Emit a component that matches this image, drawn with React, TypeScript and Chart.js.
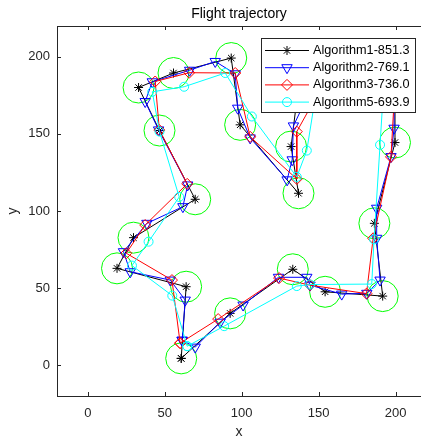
import React, { useEffect, useRef } from 'react';
import { Chart, registerables } from 'chart.js';

Chart.register(...registerables);

const TITLE = 'Flight trajectory';
const X_LABEL = 'x';
const Y_LABEL = 'y';
const xTickValues = [0, 50, 100, 150, 200];
const yTickValues = [0, 50, 100, 150, 200];
const seriesNames = ['Algorithm1-851.3', 'Algorithm2-769.1', 'Algorithm3-736.0', 'Algorithm5-693.9'];

// Algorithm1 visits the waypoint centres (green circles)
const alg1X = [60.7, 92.5, 133.2, 154.2, 191.6, 186.2, 199.6, 199.6, 138.6, 132.1, 136.9, 99.0, 93.2, 55.7, 33.0, 46.6, 69.8, 29.7, 19.0, 63.9];
const alg1Y = [4.4, 33.6, 62.2, 47.6, 44.8, 92.0, 144.4, 194.9, 194.9, 141.8, 111.5, 155.9, 199.2, 189.5, 180.1, 152.2, 107.6, 82.7, 62.8, 50.9];

const alg2X = [61.3, 69.8, 86.0, 100.9, 123.9, 142.3, 144.4, 165.0, 181.3, 189.9, 187.7, 187.7, 197.0, 199.0, 199.0, 152.6, 133.6, 132.8, 129.5, 105.5, 97.4, 95.8, 82.8, 66.2, 41.9, 37.3, 46.0, 64.9, 61.8, 38.4, 23.2, 27.6, 53.6, 63.3];
const alg2Y = [16.2, 11.7, 27.9, 39.0, 57.0, 57.0, 51.9, 46.1, 46.6, 55.2, 82.3, 101.8, 135.3, 153.7, 194.9, 194.9, 155.2, 133.2, 120.2, 147.4, 166.7, 189.0, 197.0, 191.3, 183.8, 171.0, 152.6, 116.9, 102.8, 92.0, 73.6, 60.6, 55.2, 42.2];

const alg3X = [60.0, 84.7, 124.3, 144.4, 181.1, 185.4, 197.0, 200.3, 160.0, 135.8, 135.8, 105.5, 95.8, 65.9, 43.8, 46.5, 64.6, 37.3, 25.0, 54.7];
const alg3Y = [14.3, 29.9, 56.5, 51.9, 46.4, 82.3, 135.1, 194.9, 194.9, 151.5, 120.8, 148.1, 189.5, 189.7, 184.0, 152.5, 117.6, 90.9, 72.6, 55.2];

const alg5X = [64.6, 88.6, 135.8, 144.4, 184.5, 186.0, 189.9, 193.1, 151.2, 142.3, 135.8, 106.6, 89.3, 62.6, 41.9, 46.6, 59.4, 39.5, 28.7, 54.9];
const alg5Y = [12.3, 25.3, 51.3, 52.3, 52.6, 81.6, 142.9, 194.9, 194.9, 139.2, 122.1, 161.3, 189.5, 180.6, 177.3, 151.5, 109.1, 80.1, 64.6, 45.1];

const FONT = "'Liberation Sans', Arial, Helvetica, sans-serif";
const AXIS_COLOR = '#262626';
const seriesColors = ['#000000', '#0000ff', '#ff0000', '#00ffff'];
const seriesMarkers = ['star', 'triDown', 'diamond', 'circle'];

function pts(xs: number[], ys: number[]) {
  return xs.map((x, i) => ({ x, y: ys[i] }));
}
function loop(xs: number[], ys: number[]) {
  const p = pts(xs, ys);
  return [...p, p[0]];
}

function drawMarker(ctx: CanvasRenderingContext2D, kind: string, x: number, y: number, color: string) {
  ctx.save();
  ctx.strokeStyle = color;
  ctx.lineWidth = 1;
  ctx.beginPath();
  if (kind === 'star') {
    const r = 4.5;
    const d = r * Math.SQRT1_2;
    ctx.moveTo(x - r, y); ctx.lineTo(x + r, y);
    ctx.moveTo(x, y - r); ctx.lineTo(x, y + r);
    ctx.moveTo(x - d, y - d); ctx.lineTo(x + d, y + d);
    ctx.moveTo(x - d, y + d); ctx.lineTo(x + d, y - d);
  } else if (kind === 'triDown') {
    const r = 6;
    ctx.moveTo(x, y + r);
    ctx.lineTo(x + r * Math.sin(Math.PI / 3), y - r / 2);
    ctx.lineTo(x - r * Math.sin(Math.PI / 3), y - r / 2);
    ctx.closePath();
  } else if (kind === 'diamond') {
    const r = 5.5;
    ctx.moveTo(x, y - r); ctx.lineTo(x + r, y); ctx.lineTo(x, y + r); ctx.lineTo(x - r, y);
    ctx.closePath();
  } else {
    ctx.arc(x, y, 4.5, 0, Math.PI * 2);
  }
  ctx.stroke();
  ctx.restore();
}

const decorPlugin = {
  id: 'decor',
  afterDraw(chart: any) {
    const { ctx, chartArea: a, scales } = chart;
    const xs = scales.x;
    const ys = scales.y;
    ctx.save();
    ctx.strokeStyle = AXIS_COLOR;
    ctx.lineWidth = 1;
    // top border
    const top = Math.round(a.top) + 0.5;
    ctx.beginPath();
    ctx.moveTo(a.left, top);
    ctx.lineTo(a.right, top);
    ctx.stroke();
    // inward ticks
    ctx.beginPath();
    xTickValues.forEach((v) => {
      const p = Math.round(xs.getPixelForValue(v)) + 0.5;
      ctx.moveTo(p, a.bottom);
      ctx.lineTo(p, a.bottom - 4);
      ctx.moveTo(p, a.top);
      ctx.lineTo(p, a.top + 4);
    });
    yTickValues.forEach((v) => {
      const p = Math.round(ys.getPixelForValue(v)) + 0.5;
      ctx.moveTo(a.left, p);
      ctx.lineTo(a.left + 4, p);
    });
    ctx.stroke();

    // x tick labels
    ctx.fillStyle = AXIS_COLOR;
    ctx.font = `13px ${FONT}`;
    ctx.textAlign = 'center';
    ctx.textBaseline = 'middle';
    xTickValues.forEach((v) => {
      ctx.fillText(String(v), xs.getPixelForValue(v), a.bottom + 17.3);
    });

    // legend box
    const lx = 261.5, ly = 38.5, lw = 154, lh = 74;
    ctx.fillStyle = '#ffffff';
    ctx.fillRect(lx, ly, lw, lh);
    ctx.strokeStyle = AXIS_COLOR;
    ctx.strokeRect(lx, ly, lw, lh);
    ctx.font = `12.7px ${FONT}`;
    ctx.textBaseline = 'middle';
    ctx.textAlign = 'left';
    seriesNames.forEach((name, i) => {
      const yy = 50.5 + i * 17.2;
      ctx.strokeStyle = seriesColors[i];
      ctx.beginPath();
      ctx.moveTo(265, yy);
      ctx.lineTo(309, yy);
      ctx.stroke();
      drawMarker(ctx, seriesMarkers[i], 287, yy, seriesColors[i]);
      ctx.fillStyle = '#000000';
      ctx.fillText(name, 313, yy);
    });
    ctx.restore();
  },
};

export default function App() {
  const ref = useRef<HTMLCanvasElement>(null);
  useEffect(() => {
    const canvas = ref.current;
    if (!canvas) return;
    Chart.defaults.font.family = FONT;
    const lineDs = (label: string, data: any[], color: string, style: any, radius: number, rot: number, order: number) => ({
      label,
      data,
      showLine: true,
      borderColor: color,
      borderWidth: 1,
      backgroundColor: 'rgba(0,0,0,0)',
      pointStyle: style,
      pointRadius: radius,
      pointRotation: rot,
      pointBorderColor: color,
      pointBackgroundColor: 'rgba(0,0,0,0)',
      pointBorderWidth: 1,
      tension: 0,
      fill: false,
      order,
    });
    const chart = new Chart(canvas, {
      type: 'scatter',
      data: {
        datasets: [
          {
            label: 'waypoints',
            data: pts(alg1X, alg1Y),
            showLine: false,
            pointStyle: 'circle',
            pointRadius: 15.5,
            pointBorderColor: 'rgb(0,255,0)',
            pointBackgroundColor: 'rgba(0,0,0,0)',
            pointBorderWidth: 1,
            order: 5,
          } as any,
          lineDs(seriesNames[0], loop(alg1X, alg1Y), seriesColors[0], 'star', 4.5, 0, 4),
          lineDs(seriesNames[1], loop(alg2X, alg2Y), seriesColors[1], 'triangle', 6, 180, 3),
          lineDs(seriesNames[2], loop(alg3X, alg3Y), seriesColors[2], 'rectRot', 5.5, 0, 2),
          lineDs(seriesNames[3], loop(alg5X, alg5Y), seriesColors[3], 'circle', 4.5, 0, 1),
        ],
      },
      options: {
        responsive: false,
        animation: false,
        events: [],
        layout: { padding: 0, autoPadding: false },
        plugins: {
          legend: { display: false },
          tooltip: { enabled: false },
          title: {
            display: true,
            text: TITLE,
            fullSize: false,
            color: '#000000',
            font: { family: FONT, size: 14, weight: 'normal' },
            padding: { top: 6, bottom: 3.2 },
          },
        },
        scales: {
          x: {
            type: 'linear',
            min: -20,
            max: 216.5,
            afterBuildTicks: (s: any) => { s.ticks = xTickValues.map((v) => ({ value: v })); },
            afterFit: (s: any) => { s.height = 43; s.paddingLeft = 0; s.paddingRight = 0; },
            grid: { display: true, drawOnChartArea: false, drawTicks: false },
            border: { display: true, color: AXIS_COLOR, width: 1 },
            ticks: { display: false },
            title: { display: true, text: X_LABEL, color: AXIS_COLOR, font: { family: FONT, size: 14, lineHeight: 1 }, padding: { top: 0, bottom: 0 } },
          },
          y: {
            type: 'linear',
            min: -20,
            max: 220,
            afterBuildTicks: (s: any) => { s.ticks = yTickValues.map((v) => ({ value: v })); },
            afterFit: (s: any) => { s.width = 57; s.paddingTop = 0; s.paddingBottom = 0; },
            grid: { display: true, drawOnChartArea: false, drawTicks: false },
            border: { display: true, color: AXIS_COLOR, width: 1 },
            ticks: { color: AXIS_COLOR, font: { family: FONT, size: 13 }, padding: 7 },
            title: { display: true, text: Y_LABEL, color: AXIS_COLOR, font: { family: FONT, size: 14, lineHeight: 1 }, padding: { top: 6, bottom: 0 } },
          },
        },
      } as any,
      plugins: [decorPlugin],
    });
    return () => chart.destroy();
  }, []);
  return (
    <div style={{ position: 'fixed', left: 0, top: 0, width: 421, height: 439, background: '#ffffff' }}>
      <canvas ref={ref} width={421} height={439} style={{ display: 'block', width: 421, height: 439 }} />
    </div>
  );
}
